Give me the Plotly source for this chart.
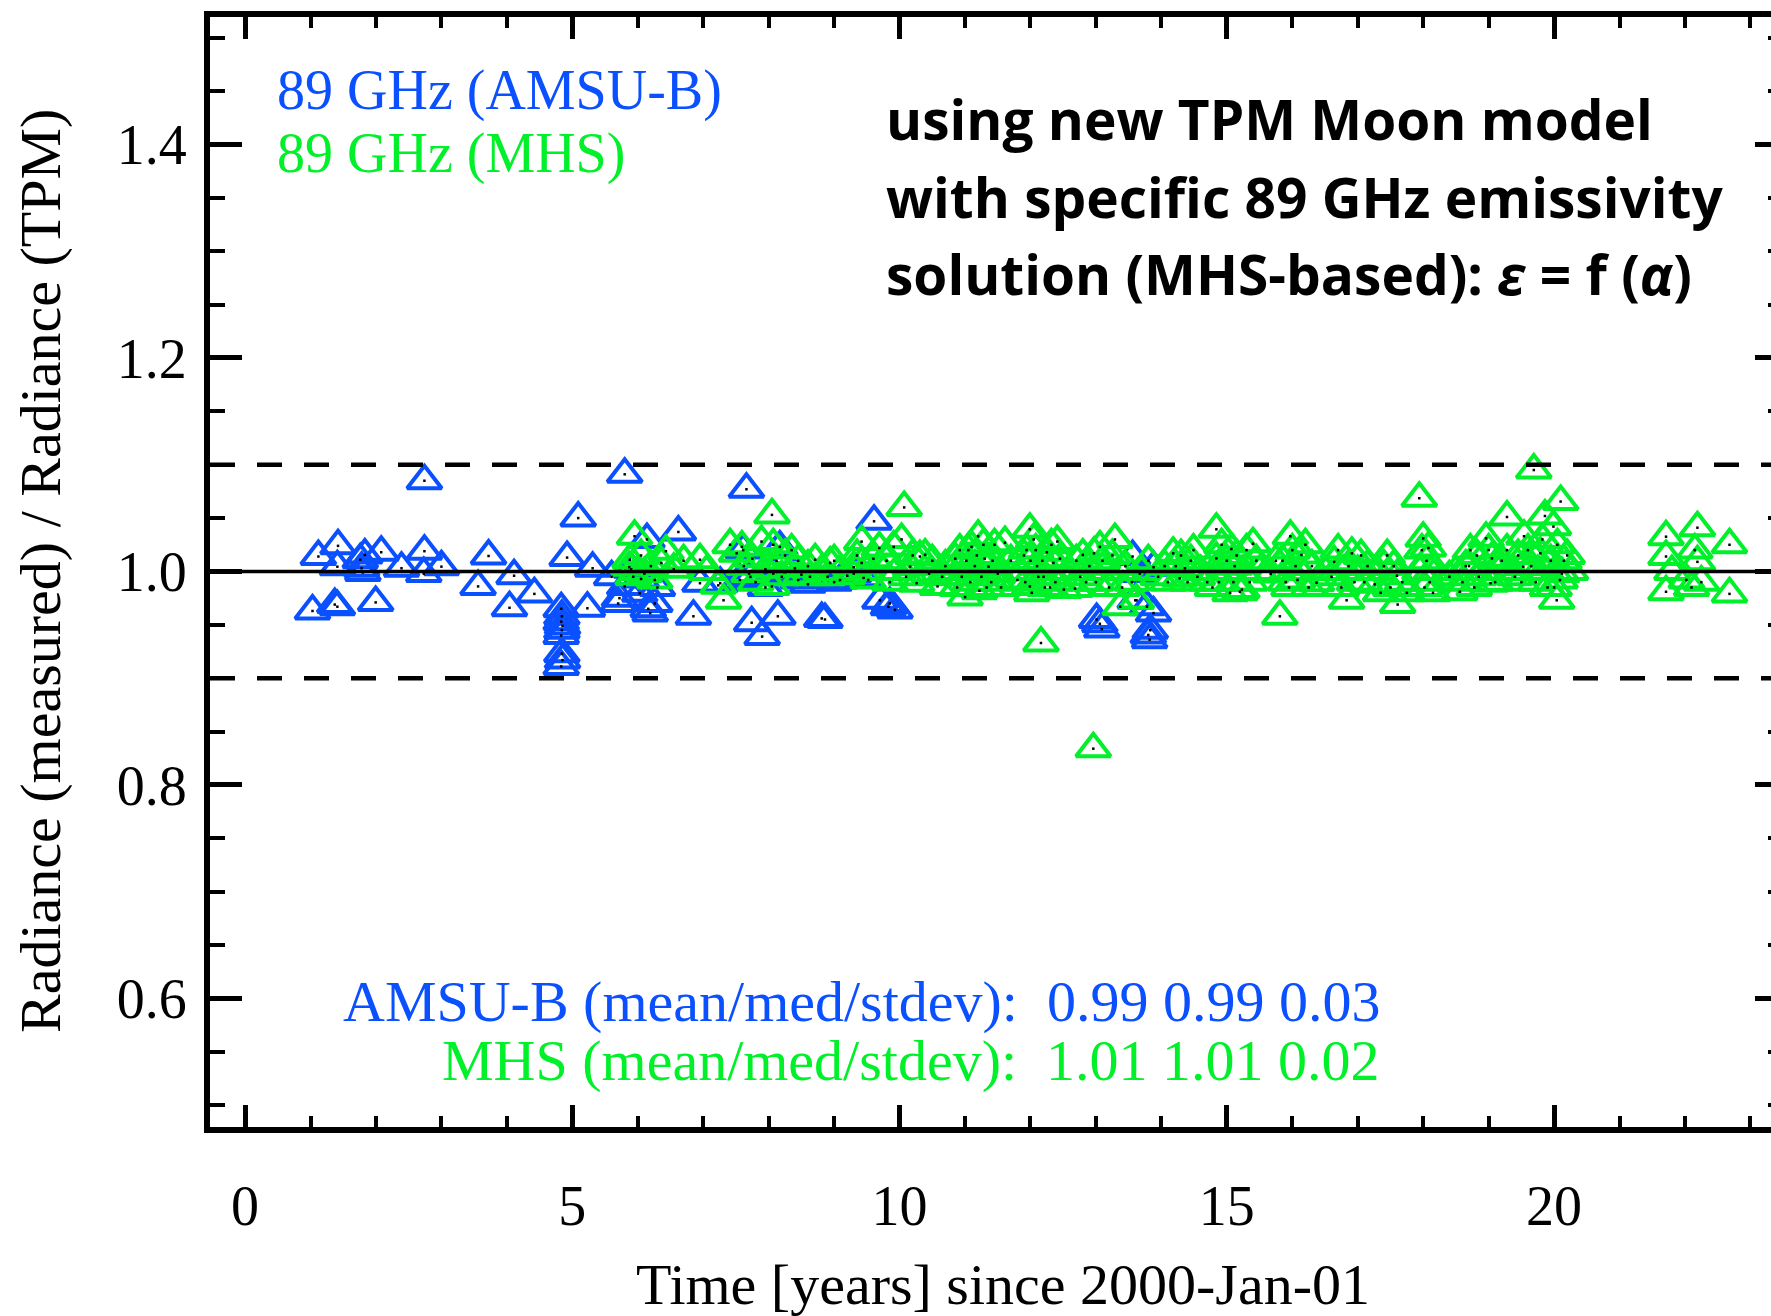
import plotly.graph_objects as go

# ---------------- data ----------------
amsub_t = [1.03, 1.12, 1.37, 1.41, 1.42, 1.41, 1.76, 1.83, 1.78, 1.80, 2.08, 1.995, 2.39, 2.74, 2.74,
           2.73, 3.00, 3.72, 3.56, 4.11, 4.04, 4.42, 5.09, 4.92, 5.31, 5.23, 4.83, 4.84, 4.83, 4.85,
           4.84, 4.83, 4.84, 4.85, 4.83, 5.80, 5.70, 5.80, 5.72, 6.14, 6.03, 6.16, 6.19, 6.26, 6.62,
           6.85, 6.95, 7.26, 7.56, 7.61, 7.66, 7.72, 7.74, 7.90, 8.07, 8.14, 8.17, 8.35, 8.81, 8.86,
           9.09, 9.61, 9.70, 9.83, 9.93, 9.85, 13.01, 13.06, 13.09, 13.56, 13.60, 13.67, 13.78, 13.80,
           13.82, 13.83, 13.88, 13.88, 5.60, 5.90, 6.05, 6.30, 7.95, 8.45, 8.60, 9.30, 9.45, 9.00]
amsub_v = [0.963, 1.014, 0.969, 0.967, 1.024, 1.0045, 1.011, 1.0155, 1.003, 0.999, 1.018, 0.971, 1.003, 1.085, 1.019,
           0.998, 1.0045, 1.0145, 0.986, 0.996, 0.966, 0.979, 1.050, 1.013, 1.003, 0.9655, 0.965, 0.958, 0.953, 0.949,
           0.945, 0.940, 0.923, 0.917, 0.911, 1.091, 0.970, 0.986, 0.975, 1.030, 0.9795, 0.965, 0.961, 0.970, 1.037,
           0.958, 0.989, 0.989, 0.992, 1.020, 1.077, 0.995, 0.952, 0.939, 0.998, 0.958, 1.023, 1.000, 0.956, 0.955,
           0.992, 1.047, 0.973, 0.967, 0.964, 0.970, 0.955, 0.951, 0.946, 1.014, 0.973, 0.998, 0.967, 0.9405,
           0.936, 0.945, 1.004, 0.961, 0.995, 1.002, 0.993, 0.985, 0.985, 0.992, 0.988, 0.998, 0.994, 0.990]

mhs_t = [5.87, 5.88, 5.95, 5.93, 6.00, 6.05, 6.10, 6.20, 6.36, 6.43, 6.26, 6.55, 6.70, 6.95, 7.05,
         7.23, 7.31, 7.41, 7.51, 7.59, 7.62, 7.70, 7.75, 7.89, 7.95, 8.05, 8.07, 8.05, 8.12, 8.20,
         8.35, 8.40, 8.50, 8.63, 8.71, 8.80, 8.94, 9.09, 9.20, 9.30, 9.42, 9.42, 9.52, 9.60, 9.69,
         9.75, 9.85, 9.91, 10.03, 10.07, 10.16, 10.26, 10.31, 10.39, 10.45, 10.58, 10.70, 10.85, 10.95, 11.00,
         11.05, 11.10, 11.15, 11.20, 11.22, 11.30, 11.36, 11.40, 11.45, 11.50, 11.61, 11.70, 11.80, 11.90, 11.94,
         11.99, 11.99, 12.05, 12.10, 12.16, 12.20, 12.25, 12.30, 12.35, 12.41, 12.51, 12.60, 12.68, 12.76, 12.80,
         12.90, 12.97, 13.00, 13.06, 13.15, 13.29, 13.37, 13.45, 13.55, 13.62, 13.70, 13.80, 13.95, 14.05, 14.18,
         14.28, 14.36, 14.49, 14.60, 14.70, 14.78, 14.84, 14.84, 14.95, 15.07, 15.10, 15.20, 15.23, 15.30, 15.40,
         15.50, 15.67, 15.75, 15.81, 15.90, 15.97, 16.05, 16.14, 16.25, 16.37, 16.50, 16.64, 16.75, 16.83, 16.91,
         17.00, 17.10, 17.26, 17.40, 17.50, 17.60, 17.61, 17.75, 17.94, 18.00, 18.05, 18.10, 18.20, 18.40, 18.56,
         18.65, 18.72, 18.85, 18.96, 19.03, 19.05, 19.15, 19.28, 19.28, 19.40, 19.53, 19.54, 19.69, 19.75, 19.79,
         19.86, 19.90, 19.99, 20.04, 20.09, 20.10, 20.15, 20.25, 21.71, 21.71, 21.71, 21.80, 22.02, 22.10, 22.19,
         22.19, 22.25, 22.68, 22.68, 22.15, 12.96,
         10.80, 10.88, 10.92, 11.02, 11.08, 11.12, 11.18, 11.25, 11.28, 11.33, 11.42, 11.55,
         11.85, 11.92, 12.00, 12.02, 12.08, 12.12, 12.18, 12.22, 12.28, 12.32, 12.38, 12.45,
         12.70, 12.85, 12.93, 13.10, 13.20, 13.25, 13.35, 13.40,
         14.10, 14.22, 14.30, 14.40, 14.45, 14.55,
         14.80, 14.88, 14.92, 15.00, 15.05, 15.12, 15.15, 15.25, 15.35, 15.45,
         15.85, 15.92, 15.95, 16.00, 16.08, 16.12, 16.20, 16.30,
         16.60, 16.70, 16.78, 16.86, 16.95, 17.05, 17.15,
         17.30, 17.35, 17.45, 17.55, 17.68,
         17.95, 17.98, 18.02, 18.08, 18.12, 18.15,
         18.50, 18.60, 18.70, 18.78, 18.82, 18.90, 19.00, 19.10, 19.20,
         19.35, 19.45, 19.50, 19.60, 19.65, 19.72, 19.82, 19.88, 19.95, 20.00, 20.05, 20.12, 20.20,
         7.80, 8.25, 8.45, 8.60, 8.90, 9.00, 9.35, 9.50, 9.80, 9.95, 10.10, 10.20, 10.50, 10.65]
mhs_v = [1.004, 1.011, 1.033, 0.995, 1.000, 1.015, 0.998, 1.005, 1.008, 1.019, 0.992, 1.002, 1.010, 1.011, 1.000,
         0.987, 0.973, 1.025, 1.017, 1.023, 1.005, 0.998, 1.012, 1.028, 1.002, 1.053, 1.025, 0.986, 1.010, 0.995,
         1.020, 1.003, 0.997, 0.995, 1.011, 1.000, 1.008, 1.000, 0.996, 1.004, 1.028, 1.008, 0.992, 1.012, 1.022,
         1.000, 0.990, 1.023, 1.030, 1.060, 1.0045, 0.989, 1.014, 1.0155, 0.998, 0.986, 1.005, 1.012, 0.995, 0.976,
         1.020, 1.023, 1.005, 1.033, 0.982, 1.012, 1.0045, 0.990, 1.025, 0.998, 1.027, 1.010, 0.992, 1.015, 1.020,
         1.0395, 0.986, 1.030, 1.005, 0.933, 0.995, 1.018, 0.985, 1.008, 1.028, 0.983, 1.000, 0.984, 0.995, 1.0155,
         1.005, 1.017, 0.990, 1.023, 1.000, 1.030, 0.967, 1.005, 0.990, 0.973, 1.000, 1.010, 0.995, 1.005, 1.017,
         0.9936, 1.003, 1.020, 1.000, 0.990, 0.985, 1.0395, 1.0123, 1.000, 1.021, 0.990, 0.981, 0.983, 1.020, 1.026,
         1.000, 0.9977, 1.010, 0.958, 0.990, 1.033, 1.005, 1.0155, 0.985, 0.9895, 1.000, 1.009, 0.985, 0.973, 1.017,
         1.000, 0.990, 0.988, 1.005, 0.985, 0.996, 0.969, 0.980, 1.0686, 1.031, 1.010, 0.990, 1.000, 0.995, 0.981,
         1.005, 1.020, 0.995, 1.031, 0.989, 1.0123, 1.000, 1.051, 1.020, 0.995, 1.0045, 1.033, 1.095, 1.000, 1.017,
         1.052, 0.985, 1.042, 0.973, 0.992, 1.0655, 1.010, 1.000, 1.0326, 1.014, 0.981, 1.000, 0.992, 0.985, 1.041,
         1.009, 0.990, 1.025, 0.979, 1.020, 0.834,
         1.000, 0.985, 1.020, 1.010, 0.990, 1.000, 1.015, 0.995, 1.025, 0.985, 1.010, 0.985,
         1.000, 0.990, 1.010, 0.980, 1.020, 0.995, 1.010, 0.985, 1.000, 1.025, 0.990, 1.012,
         1.010, 0.990, 1.000, 1.010, 0.985, 1.015, 1.000, 0.985,
         0.990, 1.005, 1.015, 0.990, 1.010, 0.995,
         1.000, 0.990, 1.025, 1.010, 0.980, 1.005, 1.015, 1.000, 0.990, 1.010,
         1.010, 1.000, 0.985, 1.020, 0.992, 1.000, 1.025, 1.005,
         0.995, 1.020, 1.000, 1.005, 0.990, 1.015, 1.005,
         1.000, 0.980, 1.015, 1.005, 0.990,
         1.000, 1.020, 0.985, 1.022, 1.000, 0.980,
         1.000, 0.990, 1.005, 0.985, 1.015, 1.000, 1.020, 0.990, 1.010,
         1.000, 1.015, 0.990, 1.020, 1.005, 0.990, 1.030, 1.000, 1.010, 0.985, 1.025, 0.998, 1.015,
         0.990, 1.015, 1.010, 1.005, 0.995, 1.010, 1.015, 1.000, 1.010, 1.000, 0.995, 1.015, 1.010, 0.995]

ref_solid = [1.0]
ref_dashed = [1.1, 0.9]

x_ticks = [0, 5, 10, 15, 20]
x_ticktext = ["0", "5", "10", "15", "20"]
x_minor = [1, 2, 3, 4, 6, 7, 8, 9, 11, 12, 13, 14, 16, 17, 18, 19, 21, 22, 23]
y_ticks = [0.6, 0.8, 1.0, 1.2, 1.4]
y_ticktext = ["0.6", "0.8", "1.0", "1.2", "1.4"]
y_minor = [0.5, 0.55, 0.65, 0.7, 0.75, 0.85, 0.9, 0.95, 1.05, 1.1, 1.15, 1.25, 1.3, 1.35, 1.45, 1.5]

stats_amsub = "0.99 0.99 0.03"
stats_mhs = "1.01 1.01 0.02"

# ---------------- styling ----------------
BLUE = "#0B50FF"
GREEN = "#00F02A"
SERIF = "Liberation Serif"
SANS = "Open Sans"
W, H = 1771, 1316
ML, MT, MB, MR = 210, 17, 189, 0
PW, PH = W - ML - MR, H - MT - MB
X_RANGE = [-0.536, 23.314]
Y_RANGE = [0.4796, 1.5194]


def px2paper_x(px):
    return (px - ML) / PW


def px2paper_y(py):
    return (H - MB - py) / PH


fig = go.Figure()
tri = dict(symbol="triangle-up-open", size=30)
fig.add_trace(go.Scatter(x=amsub_t, y=amsub_v, mode="markers", showlegend=False,
                         marker=dict(**tri, color=BLUE, line=dict(width=4, color=BLUE))))
fig.add_trace(go.Scatter(x=mhs_t, y=mhs_v, mode="markers", showlegend=False,
                         marker=dict(**tri, color=GREEN, line=dict(width=4, color=GREEN))))
fig.add_trace(go.Scatter(x=amsub_t + mhs_t, y=amsub_v + mhs_v, mode="markers", showlegend=False,
                         marker=dict(symbol="square", size=2.5, color="black", line=dict(width=0))))

shapes = []
for v in ref_solid:
    shapes.append(dict(type="line", xref="paper", x0=0, x1=1, yref="y", y0=v, y1=v,
                       line=dict(color="black", width=3.5), layer="above"))
for v in ref_dashed:
    shapes.append(dict(type="line", xref="paper", x0=0, x1=1, yref="y", y0=v, y1=v,
                       line=dict(color="black", width=4.5, dash="25px,22px"), layer="above"))

ann = []
ann.append(dict(text="89 GHz (AMSU-B)", x=px2paper_x(275), y=px2paper_y(91), xref="paper", yref="paper",
                xanchor="left", yanchor="middle", showarrow=False, font=dict(family=SERIF, size=56, color=BLUE)))
ann.append(dict(text="89 GHz (MHS)", x=px2paper_x(275), y=px2paper_y(154), xref="paper", yref="paper",
                xanchor="left", yanchor="middle", showarrow=False, font=dict(family=SERIF, size=56, color=GREEN)))
note_lines = ["using new TPM Moon model",
              "with specific 89 GHz emissivity",
              "solution (MHS-based): <i>ε</i> = f (<i>α</i>)"]
note_mid = [119, 196, 273]
for txt, ym in zip(note_lines, note_mid):
    ann.append(dict(text="<b>" + txt + "</b>", x=px2paper_x(884), y=px2paper_y(ym), xref="paper", yref="paper",
                    xanchor="left", yanchor="middle", showarrow=False,
                    font=dict(family=SANS, size=55, color="black")))
ann.append(dict(text="AMSU-B (mean/med/stdev):\u00a0\u00a0" + stats_amsub, x=px2paper_x(1382), y=px2paper_y(1001),
                xref="paper", yref="paper", xanchor="right", yanchor="middle", showarrow=False,
                font=dict(family=SERIF, size=58, color=BLUE)))
ann.append(dict(text="MHS (mean/med/stdev):\u00a0\u00a0" + stats_mhs, x=px2paper_x(1382), y=px2paper_y(1060),
                xref="paper", yref="paper", xanchor="right", yanchor="middle", showarrow=False,
                font=dict(family=SERIF, size=58, color=GREEN)))
ann.append(dict(text="Time [years] since 2000-Jan-01", x=px2paper_x(1003), y=px2paper_y(1285),
                xref="paper", yref="paper", xanchor="center", yanchor="middle", showarrow=False,
                font=dict(family=SERIF, size=58, color="black")))
ann.append(dict(text="Radiance (measured) / Radiance (TPM)", x=px2paper_x(40), y=px2paper_y(571),
                xref="paper", yref="paper", xanchor="center", yanchor="middle", showarrow=False, textangle=-90,
                font=dict(family=SERIF, size=58, color="black")))

minor_y = dict(tickmode="array", tickvals=y_minor, ticks="inside", ticklen=15, tickwidth=4,
               tickcolor="black", showgrid=False)

fig.update_layout(
    width=W, height=H,
    margin=dict(l=ML, r=MR, t=MT, b=MB, pad=0),
    paper_bgcolor="white", plot_bgcolor="white",
    shapes=shapes, annotations=ann,
    xaxis=dict(range=X_RANGE, tickmode="array", tickvals=x_ticks, ticktext=x_ticktext,
               ticks="inside", ticklen=22, tickwidth=5, tickcolor="black",
               showline=True, linewidth=6, linecolor="black", mirror="ticks",
               showgrid=False, zeroline=False,
               minor=dict(tickmode="array", tickvals=x_minor, ticks="inside", ticklen=11, tickwidth=4,
                          tickcolor="black", showgrid=False),
               tickfont=dict(family=SERIF, size=56, color="black"), ticklabelstandoff=25),
    yaxis=dict(range=Y_RANGE, tickmode="array", tickvals=y_ticks, ticktext=y_ticktext,
               ticks="inside", ticklen=32, tickwidth=5, tickcolor="black",
               showline=True, linewidth=6, linecolor="black", mirror=False,
               showgrid=False, zeroline=False, minor=minor_y,
               tickfont=dict(family=SERIF, size=56, color="black"), ticklabelstandoff=6),
    # right-hand tick marks only (the right frame line lies outside the picture in the reference)
    yaxis2=dict(range=Y_RANGE, overlaying="y", side="right", tickmode="array", tickvals=y_ticks,
                ticks="inside", ticklen=16, tickwidth=5, tickcolor="black",
                showline=False, showticklabels=False, showgrid=False, zeroline=False,
                minor=dict(tickmode="array", tickvals=y_minor, ticks="inside", ticklen=3, tickwidth=4,
                           tickcolor="black", showgrid=False)),
)
# an invisible trace so the right-hand axis is drawn
fig.add_trace(go.Scatter(x=[X_RANGE[0]], y=[Y_RANGE[0]], yaxis="y2", mode="markers",
                         marker=dict(opacity=0), showlegend=False, hoverinfo="skip"))

fig.write_html("out.html")
